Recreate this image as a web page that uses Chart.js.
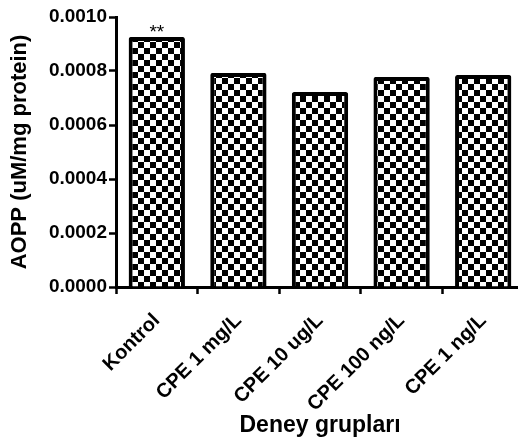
<!DOCTYPE html>
<html>
<head>
<meta charset="utf-8">
<script src="https://cdn.jsdelivr.net/npm/chart.js@4/dist/chart.umd.min.js"></script>
<style>
    html, body { margin: 0; padding: 0; background: #fff; overflow: hidden; }
    #wrap { width: 524px; height: 439px; }
</style>
</head>
<body>
<div id="wrap"><canvas id="aoppChart" width="524" height="439"></canvas></div>
<script>
// Data
const groups = ['Kontrol', 'CPE 1 mg/L', 'CPE 10 ug/L', 'CPE 100 ng/L', 'CPE 1 ng/L'];
const aoppValues = [0.000926, 0.000793, 0.000722, 0.000778, 0.000785];
const significance = ['**', '', '', '', ''];
const yTicks = [0, 0.0002, 0.0004, 0.0006, 0.0008, 0.0010];

const FONT = "'Liberation Sans', Arial, Helvetica, sans-serif";

// Checkerboard fill like the original bars
function makeChecker(cell) {
    const c = document.createElement('canvas');
    c.width = cell * 2;
    c.height = cell * 2;
    const g = c.getContext('2d');
    g.fillStyle = '#fff';
    g.fillRect(0, 0, c.width, c.height);
    g.fillStyle = '#000';
    g.fillRect(0, 0, cell, cell);
    g.fillRect(cell, cell, cell, cell);
    return g.createPattern(c, 'repeat');
}

// Draws the significance stars above the bars
const starsPlugin = {
    id: 'stars',
    afterDatasetsDraw(chart) {
        const ctx = chart.ctx;
        const meta = chart.getDatasetMeta(0);
        ctx.save();
        ctx.font = '19px ' + FONT;
        ctx.fillStyle = '#000';
        ctx.textAlign = 'center';
        ctx.textBaseline = 'alphabetic';
        meta.data.forEach((bar, i) => {
            if (significance[i]) {
                ctx.fillText(significance[i], bar.x, bar.y + 1);
            }
        });
        ctx.restore();
    }
};

const ctx = document.getElementById('aoppChart').getContext('2d');
new Chart(ctx, {
    type: 'bar',
    data: {
        labels: groups,
        datasets: [{
            data: aoppValues,
            backgroundColor: makeChecker(6),
            borderColor: '#000',
            borderWidth: 4,
            borderRadius: 2,
            borderSkipped: 'bottom',
            barPercentage: 0.69,
            categoryPercentage: 1.0
        }]
    },
    options: {
        responsive: false,
        animation: false,
        layout: { padding: { top: 17, right: 0, left: 0, bottom: 0 } },
        plugins: {
            legend: { display: false },
            tooltip: { enabled: false }
        },
        scales: {
            x: {
                afterFit: (s) => { s.height = 152; },
                grid: {
                    drawOnChartArea: false,
                    drawTicks: true,
                    tickLength: 7,
                    tickWidth: 2.5,
                    color: '#000'
                },
                border: { color: '#000', width: 3 },
                ticks: {
                    color: '#000',
                    autoSkip: false,
                    maxRotation: 45,
                    minRotation: 45,
                    padding: 15,
                    font: { family: FONT, size: 20, weight: 'bold' }
                },
                title: {
                    display: true,
                    text: 'Deney grupları',
                    color: '#000',
                    font: { family: FONT, size: 23, weight: 'bold' },
                    padding: { top: 0, bottom: 0 }
                }
            },
            y: {
                min: 0,
                max: 0.001,
                afterFit: (s) => { s.width = 116; },
                afterBuildTicks: (s) => { s.ticks = yTicks.map(v => ({ value: v })); },
                grid: {
                    drawOnChartArea: false,
                    drawTicks: true,
                    tickLength: 7,
                    tickWidth: 2.5,
                    color: '#000'
                },
                border: { color: '#000', width: 3 },
                ticks: {
                    color: '#000',
                    padding: 2,
                    font: { family: FONT, size: 19, weight: 'bold' },
                    callback: (v) => Number(v).toFixed(4)
                },
                title: {
                    display: true,
                    text: 'AOPP (uM/mg protein)',
                    color: '#000',
                    font: { family: FONT, size: 22, weight: 'bold' },
                    padding: { top: 7, bottom: 0 }
                }
            }
        }
    },
    plugins: [starsPlugin]
});
</script>
</body>
</html>
